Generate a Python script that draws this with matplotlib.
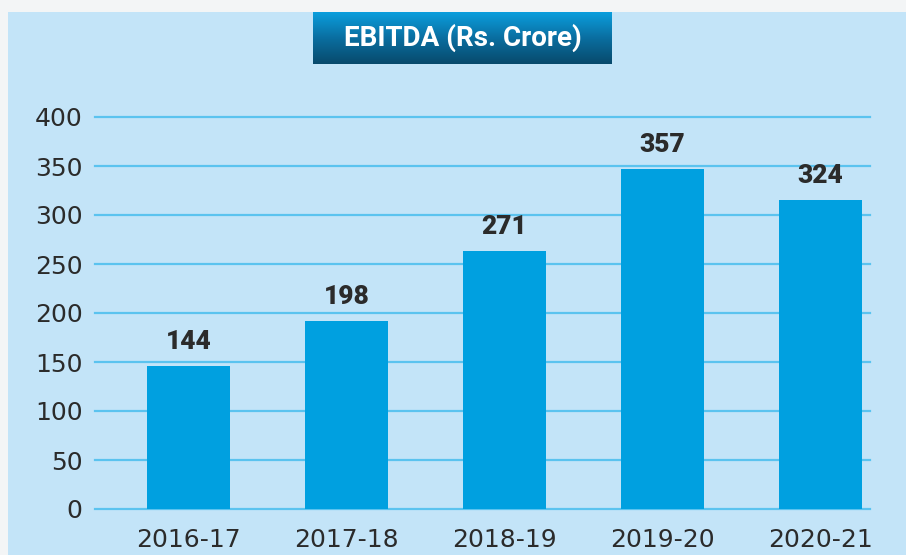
import matplotlib
matplotlib.use("Agg")
import matplotlib.pyplot as plt
import numpy as np
from matplotlib.patches import Rectangle
from matplotlib.colors import LinearSegmentedColormap

# Data
categories = ["2016-17", "2017-18", "2018-19", "2019-20", "2020-21"]
bar_heights = [146, 192, 263, 347, 315]       # drawn heights
value_labels = ["144", "198", "271", "357", "324"]
y_ticks = [0, 50, 100, 150, 200, 250, 300, 350, 400]
title_text = "EBITDA (Rs. Crore)"

W, H = 906, 555
fig = plt.figure(figsize=(W / 100, H / 100), dpi=100)
fig.patch.set_facecolor("#F3F5F6")

# light blue panel in a background axes
bax = fig.add_axes([0, 0, 1, 1], zorder=-10)
bax.set_xlim(0, W)
bax.set_ylim(H, 0)
bax.set_axis_off()
bax.add_patch(Rectangle((8, 12), W - 8, H - 12, facecolor="#C3E4F8", edgecolor="none"))

ax = fig.add_axes([95 / W, 1 - 509 / H, 775 / W, 392 / H])
ax.set_facecolor("none")
x = np.arange(len(categories))
ax.set_xlim(-0.592, 4.313)
ax.set_ylim(0, 400)
for t in y_ticks:
    ax.axhline(t, color="#5BC3EF", lw=1.6, zorder=1, clip_on=False)

ax.bar(x, bar_heights, width=0.525, color="#00A0E0", zorder=2)
for xi, h, lab in zip(x, bar_heights, value_labels):
    ax.annotate(lab, (xi, h), xytext=(0, 8.5), textcoords="offset points",
                ha="center", va="bottom", fontsize=19, fontweight="heavy",
                color="#2B2B2B", family="Roboto")

for s in ax.spines.values():
    s.set_visible(False)
ax.set_yticks(y_ticks)
ax.set_yticklabels([str(t) for t in y_ticks], fontsize=18, color="#2B2B2B", family="DejaVu Sans")
ax.set_xticks(x)
ax.set_xticklabels(categories, fontsize=18, color="#2B2B2B", family="DejaVu Sans")
ax.tick_params(axis="both", length=0)
ax.tick_params(axis="y", pad=9)
ax.tick_params(axis="x", pad=14)

# title box with gradient
tax = fig.add_axes([313 / W, 1 - 64 / H, 299 / W, 52 / H])
grad = np.linspace(0, 1, 100).reshape(-1, 1)
cmap = LinearSegmentedColormap.from_list("g", ["#0A9EDD", "#0A6EA0", "#084A6C"])
tax.imshow(grad, aspect="auto", cmap=cmap, extent=[0, 1, 0, 1])
tax.set_axis_off()
tax.text(0.5, 0.5, title_text, ha="center", va="center", color="white",
         fontsize=20, fontweight="bold", family="Roboto", transform=tax.transAxes)

fig.savefig("out.png", dpi=100, facecolor=fig.get_facecolor())
